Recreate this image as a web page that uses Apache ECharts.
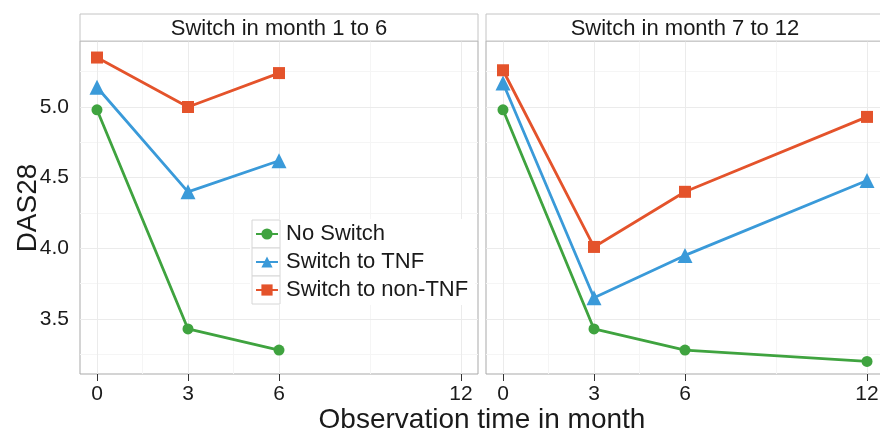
<!DOCTYPE html>
<html>
<head>
<meta charset="utf-8">
<script src="https://cdn.jsdelivr.net/npm/echarts@6/dist/echarts.min.js"></script>
<style>html,body{margin:0;padding:0;background:#fff}#c{width:880px;height:432px}</style>
</head>
<body>
<div id="c"></div>
<script>
// ---- data ----
var panelTitles = ['Switch in month 1 to 6', 'Switch in month 7 to 12'];
var seriesNames = ['No Switch', 'Switch to TNF', 'Switch to non-TNF'];
var monthsA = [0, 3, 6];
var monthsB = [0, 3, 6, 12];
var noSwitchA = [4.98, 3.43, 3.28];
var tnfA = [5.14, 4.40, 4.62];
var nonTnfA = [5.35, 5.00, 5.24];
var noSwitchB = [4.98, 3.43, 3.28, 3.20];
var tnfB = [5.17, 3.65, 3.95, 4.48];
var nonTnfB = [5.26, 4.01, 4.40, 4.93];
var xTicks = [0, 3, 6, 12];
var xMinor = [1.5, 4.5, 9];
var yTicks = [3.5, 4.0, 4.5, 5.0];
var yMinor = [3.25, 3.75, 4.25, 4.75, 5.25];

// ---- style ----
var FONT = 'Liberation Sans, Arial, sans-serif';
var colors = ['#3fa33f', '#3a9ad9', '#e4532b'];
var symbols = ['circle', 'triangle', 'rect'];
var symSizes = [11, 15, 12];
var G = [{left: 80, top: 41, right: 402, bottom: 58, w: 398}, {left: 486, top: 41, right: -4, bottom: 58, w: 398}];

function zip(xs, ys) { return xs.map(function (x, i) { return [x, ys[i]]; }); }

var chart = echarts.init(document.getElementById('c'), null, {renderer: 'canvas'});

var grids = G.map(function (g) {
  return {left: g.left, top: g.top, right: g.right, bottom: g.bottom, show: true,
    backgroundColor: '#fff', borderColor: '#a9a9a9', borderWidth: 1, containLabel: false, outerBoundsMode: 'none'};
});

var xAxes = [0, 1].map(function (i) {
  return {type: 'value', gridIndex: i, min: -0.56, max: 12.56,
    axisLine: {show: false}, splitLine: {show: false},
    axisTick: {show: true, length: 7, lineStyle: {color: '#333', width: 1}, customValues: xTicks},
    axisLabel: {customValues: xTicks, fontSize: 21, color: '#1a1a1a', fontFamily: FONT, margin: 10, hideOverlap: false}};
});
var yAxes = [0, 1].map(function (i) {
  return {type: 'value', gridIndex: i, min: 3.111, max: 5.467,
    axisLine: {show: false}, splitLine: {show: false},
    axisTick: {show: i === 0, length: 7, lineStyle: {color: '#333', width: 1}, customValues: yTicks},
    axisLabel: {show: i === 0, customValues: yTicks, fontSize: 21, color: '#1a1a1a', fontFamily: FONT, margin: 11,
      formatter: function (v) { return v.toFixed(1); }}};
});

function gridLines(axisKey, vals, color) {
  return vals.map(function (v) {
    var o = {lineStyle: {color: color, width: 1, type: 'solid'}};
    o[axisKey] = v;
    return o;
  });
}

var series = [];
[0, 1].forEach(function (p) {
  series.push({
    type: 'line', xAxisIndex: p, yAxisIndex: p, data: [], silent: true, z: 1,
    markLine: {silent: true, symbol: 'none', animation: false, z: 1, label: {show: false},
      emphasis: {disabled: true},
      data: [].concat(
        gridLines('xAxis', xMinor, '#f5f5f5'), gridLines('yAxis', yMinor, '#f5f5f5'),
        gridLines('xAxis', xTicks, '#ebebeb'), gridLines('yAxis', yTicks, '#ebebeb'))}
  });
});
var panelData = [[noSwitchA, tnfA, nonTnfA], [noSwitchB, tnfB, nonTnfB]];
var panelMonths = [monthsA, monthsB];
[0, 1].forEach(function (p) {
  panelData[p].forEach(function (vals, k) {
    series.push({
      name: seriesNames[k], type: 'line', xAxisIndex: p, yAxisIndex: p,
      data: zip(panelMonths[p], vals), symbol: symbols[k], symbolSize: symSizes[k],
      showSymbol: true, z: 6 + k,
      lineStyle: {color: colors[k], width: 2.8},
      itemStyle: {color: colors[k]}
    });
  });
});

var graphic = [];
G.forEach(function (g, i) {
  graphic.push({type: 'rect', shape: {x: g.left, y: 14, width: g.w, height: g.top - 14},
    style: {fill: '#fff', stroke: '#c4c4c4', lineWidth: 1}, z: 10});
  graphic.push({type: 'text', x: g.left + g.w / 2, y: 14 + (g.top - 14) / 2 + 1,
    style: {text: panelTitles[i], font: '22px ' + FONT, fill: '#1a1a1a', align: 'center', verticalAlign: 'middle'}, z: 11});
});
// legend background and key boxes
graphic.push({type: 'rect', shape: {x: 250, y: 219, width: 225, height: 86}, style: {fill: '#fff'}, z: 20});
[0, 1, 2].forEach(function (k) {
  graphic.push({type: 'rect', shape: {x: 252, y: 220 + 28 * k, width: 28, height: 28},
    style: {fill: '#fff', stroke: '#d6d6d6', lineWidth: 1}, z: 21});
});
graphic.push({type: 'text', x: 482, y: 420,
  style: {text: 'Observation time in month', font: '28px ' + FONT, fill: '#1a1a1a', align: 'center', verticalAlign: 'middle'}, z: 30});
graphic.push({type: 'text', x: 28, y: 208, rotation: Math.PI / 2,
  style: {text: 'DAS28', font: '28px ' + FONT, fill: '#1a1a1a', align: 'center', verticalAlign: 'middle'}, z: 30});

chart.setOption({
  animation: false,
  grid: grids, xAxis: xAxes, yAxis: yAxes, series: series, graphic: graphic,
  legend: {
    data: seriesNames, orient: 'vertical', left: 255, top: 220, padding: 0, itemGap: 0,
    itemWidth: 22, itemHeight: 14, z: 40, zlevel: 0, selectedMode: false,
    textStyle: {fontSize: 22, fontFamily: FONT, color: '#1a1a1a', lineHeight: 28, padding: [0, 0, 0, 3]}
  }
});
</script>
</body>
</html>
